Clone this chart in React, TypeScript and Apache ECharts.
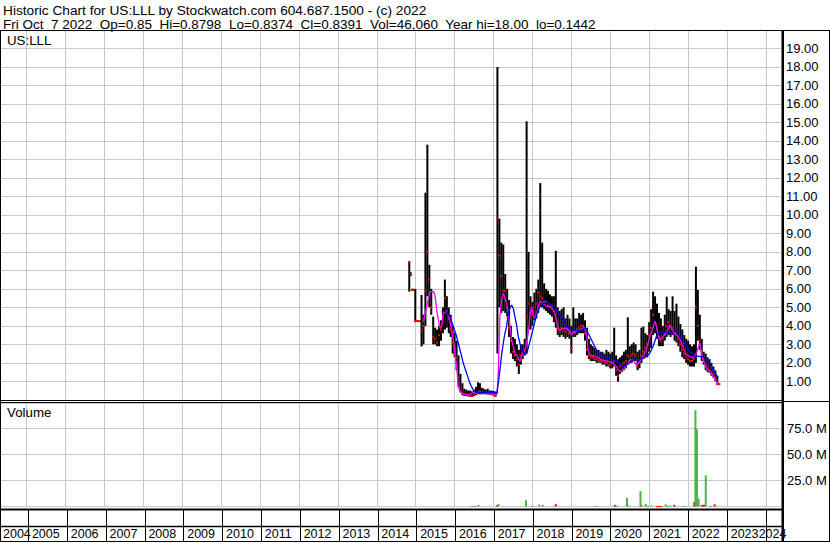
import React, { useEffect, useRef } from "react";
import * as echarts from "echarts";

// ---------- texts ----------
const HEADER_1 = "Historic Chart for US:LLL by Stockwatch.com 604.687.1500 - (c) 2022";
const HEADER_2 =
  "Fri Oct  7 2022  Op=0.85  Hi=0.8798  Lo=0.8374  Cl=0.8391  Vol=46,060  Year hi=18.00  lo=0.1442";
const SYMBOL_LABEL = "US:LLL";
const VOLUME_LABEL = "Volume";

// ---------- axis ranges / ticks ----------
const X_MIN = 2004.345;
const X_MAX = 2024.386;
const yearBoundaries = [
  2005, 2006, 2007, 2008, 2009, 2010, 2011, 2012, 2013, 2014, 2015, 2016, 2017, 2018, 2019, 2020, 2021,
  2022, 2023, 2024,
];
const yearLabels = [
  2004, 2005, 2006, 2007, 2008, 2009, 2010, 2011, 2012, 2013, 2014, 2015, 2016, 2017, 2018, 2019, 2020,
  2021, 2022, 2023, 2024,
];
const PRICE_MAX = 20;
const PRICE_STEP = 1;
const VOLUME_MAX = 99.5; // millions
const VOLUME_STEP = 25;

// ---------- price data ----------
// early sparse trades: [year, high, low, close]
const earlyBars: number[][] = [
  [2014.835, 7.5, 5.85, 7.45],
  [2014.87, 6.9, 6.7, 6.8],
  [2014.905, 6.0, 5.9, 5.95],
  [2014.94, 6.0, 5.9, 5.95],
  [2014.99, 6.0, 4.2, 4.26],
  [2015.03, 4.26, 4.26, 4.26],
  [2015.07, 4.26, 4.26, 4.26],
  [2015.11, 4.26, 4.26, 4.26],
];

// regular bars from 2015.15, one every 0.05 year
const barStart = 2015.15;
const barStep = 0.05;
const barHigh = [
  5.67, 4.6, 11.2, 13.8, 7.3, 6.0, 4.5, 3.9, 3.8, 4.0, 4.3, 5.0, 6.5, 5.6, 5.0, 4.6, 4.0, 3.6, 3.2, 2.4,
  1.4, 0.9, 0.6, 0.55, 0.5, 0.5, 0.45, 0.55, 0.7, 0.95, 0.9, 0.65, 0.6, 0.55, 0.6, 0.5, 0.5, 0.48, 0.45, 18.0,
  9.8, 8.5, 8.4, 6.8, 6.0, 5.4, 4.0, 3.4, 3.3, 3.0, 2.7, 3.0, 3.0, 3.3, 15.06, 8.0, 5.6, 5.3, 5.8, 6.0,
  6.5, 11.72, 8.5, 6.3, 6.0, 5.9, 5.7, 5.6, 5.6, 8.06, 5.0, 4.8, 4.9, 5.0, 4.4, 4.6, 4.4, 4.0, 5.0, 4.4,
  4.4, 4.7, 4.6, 4.7, 4.3, 3.9, 3.3, 3.0, 2.9, 2.8, 2.7, 2.7, 2.6, 2.6, 2.5, 2.7, 2.6, 2.5, 2.6, 3.9,
  2.4, 2.2, 2.3, 2.4, 2.6, 2.7, 4.46, 2.9, 3.0, 3.1, 3.0, 2.6, 2.7, 3.9, 3.96, 3.6, 3.5, 4.2, 4.9, 5.85,
  5.6, 5.2, 4.7, 4.4, 4.0, 4.6, 5.58, 4.9, 4.8, 5.6, 4.8, 5.2, 4.5, 4.1, 3.8, 3.5, 3.3, 3.2, 3.0, 2.9,
  3.0, 7.2, 5.94, 4.6, 3.3, 2.6, 2.5, 2.3, 2.2, 2.0, 1.8, 1.6, 1.3, 0.88,
];
const barLow = [
  2.88, 3.0, 4.0, 5.6, 5.0, 4.6, 3.0, 3.0, 2.9, 2.9, 3.2, 3.6, 3.8, 3.9, 3.6, 3.4, 2.5, 2.3, 1.6, 0.7,
  0.4, 0.25, 0.2, 0.2, 0.18, 0.17, 0.15, 0.2, 0.25, 0.3, 0.3, 0.3, 0.3, 0.3, 0.28, 0.28, 0.25, 0.22, 0.18, 2.5,
  5.0, 4.7, 4.8, 4.7, 4.5, 3.4, 2.5, 2.2, 2.1, 1.8, 1.4, 1.9, 2.2, 2.4, 2.5, 3.8, 3.8, 4.0, 4.3, 4.4,
  4.7, 5.0, 5.0, 4.9, 4.8, 4.7, 4.6, 4.5, 4.2, 3.9, 3.5, 3.4, 3.5, 3.4, 3.3, 3.4, 3.3, 2.5, 3.4, 3.4,
  3.5, 3.6, 3.6, 3.6, 3.2, 2.4, 2.2, 2.1, 2.1, 2.1, 2.0, 2.0, 2.0, 1.9, 1.9, 1.8, 1.8, 1.7, 1.7, 1.8,
  1.3, 0.98, 1.4, 1.5, 1.6, 1.7, 1.9, 2.0, 2.0, 2.1, 2.1, 1.6, 1.7, 2.0, 2.2, 2.3, 2.3, 2.6, 2.8, 3.5,
  3.6, 3.3, 2.9, 2.9, 2.9, 3.2, 3.4, 3.5, 3.4, 3.5, 3.2, 3.1, 2.9, 2.6, 2.3, 2.2, 2.0, 1.9, 1.8, 1.8,
  1.8, 2.0, 3.2, 2.7, 2.1, 1.9, 1.6, 1.5, 1.45, 1.3, 1.2, 1.0, 0.8, 0.84,
];
const barClose = [
  3.7, 4.0, 5.9, 8.0, 6.5, 5.0, 3.4, 3.3, 3.1, 3.5, 3.8, 4.5, 5.5, 4.8, 4.4, 3.8, 3.1, 2.9, 2.3, 1.2,
  0.5, 0.35, 0.3, 0.28, 0.25, 0.22, 0.2, 0.3, 0.35, 0.4, 0.45, 0.4, 0.38, 0.4, 0.35, 0.35, 0.32, 0.3, 0.2, 9.8,
  7.8, 6.7, 5.9, 5.9, 5.0, 3.9, 3.2, 2.6, 2.4, 2.2, 1.9, 2.4, 2.5, 2.7, 4.5, 5.2, 4.7, 4.6, 5.0, 5.2,
  5.8, 5.6, 5.5, 5.3, 5.3, 5.1, 5.1, 5.0, 4.8, 4.6, 3.8, 3.7, 3.9, 3.8, 3.7, 3.8, 3.6, 2.8, 3.7, 3.6,
  3.8, 3.9, 4.0, 4.0, 3.6, 2.7, 2.4, 2.3, 2.3, 2.2, 2.2, 2.1, 2.1, 2.1, 2.0, 2.0, 1.9, 1.9, 2.0, 2.1,
  1.6, 1.3, 1.8, 1.9, 2.0, 2.1, 2.4, 2.3, 2.4, 2.5, 2.4, 1.8, 2.0, 2.4, 2.6, 2.8, 3.0, 3.5, 3.9, 4.6,
  4.2, 3.8, 3.4, 3.2, 3.3, 3.6, 4.0, 4.2, 4.0, 3.9, 3.6, 3.5, 3.3, 3.0, 2.7, 2.5, 2.3, 2.2, 2.1, 2.1,
  2.2, 5.0, 4.0, 3.2, 2.6, 2.2, 1.9, 1.8, 1.6, 1.5, 1.4, 1.2, 0.95, 0.84,
];

// moving averages: [year, price]
const maShort: number[][] = [
  [2015.197, 4.23], [2015.282, 5.04], [2015.368, 5.85], [2015.453, 5.85], [2015.496, 5.67],
  [2015.539, 4.86], [2015.582, 4.32], [2015.624, 3.87], [2015.667, 3.96], [2015.71, 4.72],
  [2015.753, 4.72], [2015.796, 4.68], [2015.838, 4.59], [2015.881, 4.23], [2015.924, 3.78],
  [2015.967, 3.24], [2016.009, 2.52], [2016.052, 1.79], [2016.095, 0.71], [2016.138, 0.44],
  [2016.223, 0.31], [2016.309, 0.26], [2016.394, 0.3], [2016.48, 0.39], [2016.737, 0.39],
  [2016.908, 0.35], [2017.036, 0.26], [2017.096, 0.35], [2017.121, 1.43], [2017.147, 3.24],
  [2017.164, 4.5], [2017.207, 5.4], [2017.25, 5.76], [2017.293, 5.49], [2017.335, 5.22],
  [2017.378, 4.68], [2017.421, 3.96], [2017.464, 3.24], [2017.506, 2.88], [2017.549, 2.52],
  [2017.592, 2.43], [2017.635, 2.25], [2017.678, 2.07], [2017.72, 2.34], [2017.763, 2.52],
  [2017.806, 2.7], [2017.849, 3.06], [2017.891, 3.6], [2017.934, 4.5], [2017.977, 5.04],
  [2018.02, 4.59], [2018.062, 4.41], [2018.105, 4.68], [2018.148, 5.04], [2018.191, 5.31],
  [2018.276, 5.22], [2018.362, 5.04], [2018.447, 5.04], [2018.533, 4.86], [2018.576, 4.68],
  [2018.618, 4.32], [2018.661, 3.87], [2018.704, 3.78], [2018.79, 3.87], [2018.875, 3.87],
  [2018.961, 3.69], [2019.003, 3.51], [2019.089, 3.69], [2019.217, 3.78], [2019.328, 3.92],
  [2019.371, 3.69], [2019.405, 3.24], [2019.431, 2.7], [2019.474, 2.43], [2019.645, 2.34],
  [2019.773, 2.16], [2019.987, 2.07], [2020.073, 1.97], [2020.158, 1.79], [2020.244, 1.52],
  [2020.329, 1.62], [2020.415, 1.88], [2020.5, 2.16], [2020.586, 2.16], [2020.671, 1.88],
  [2020.757, 2.07], [2020.843, 2.34], [2020.928, 2.7], [2021.014, 3.42], [2021.099, 3.87],
  [2021.142, 4.23], [2021.168, 4.14], [2021.202, 3.78], [2021.27, 3.24], [2021.356, 3.42],
  [2021.441, 3.6], [2021.527, 4.05], [2021.595, 3.78], [2021.698, 3.51], [2021.783, 3.33],
  [2021.869, 2.88], [2021.955, 2.43], [2022.126, 2.25], [2022.211, 2.52], [2022.297, 3.06],
  [2022.34, 2.61], [2022.382, 2.16], [2022.468, 1.71], [2022.553, 1.52], [2022.639, 1.29],
  [2022.725, 0.98], [2022.767, 0.8],
];
const maLong: number[][] = [
  [2015.667, 4.77], [2015.753, 4.77], [2015.796, 4.72], [2015.838, 4.59], [2015.881, 4.5],
  [2015.924, 4.23], [2015.967, 3.96], [2016.009, 3.69], [2016.052, 3.42], [2016.095, 3.06],
  [2016.138, 2.7], [2016.181, 2.34], [2016.223, 1.97], [2016.266, 1.71], [2016.309, 1.43],
  [2016.352, 1.16], [2016.394, 0.89], [2016.437, 0.71], [2016.48, 0.53], [2016.522, 0.44],
  [2016.565, 0.4], [2016.822, 0.39], [2017.036, 0.39], [2017.079, 0.31], [2017.121, 0.89],
  [2017.164, 1.62], [2017.207, 2.43], [2017.25, 3.06], [2017.293, 3.6], [2017.335, 3.96],
  [2017.378, 4.68], [2017.421, 4.95], [2017.464, 5.13], [2017.506, 4.95], [2017.549, 4.5],
  [2017.592, 4.05], [2017.635, 3.42], [2017.678, 3.06], [2017.72, 2.79], [2017.763, 2.61],
  [2017.806, 2.43], [2017.849, 2.52], [2017.891, 2.79], [2017.934, 3.15], [2017.977, 3.51],
  [2018.02, 3.87], [2018.062, 4.23], [2018.105, 4.59], [2018.148, 4.86], [2018.191, 5.04],
  [2018.276, 5.22], [2018.362, 5.26], [2018.447, 5.17], [2018.533, 5.08], [2018.618, 4.86],
  [2018.704, 4.59], [2018.79, 4.32], [2018.875, 3.96], [2018.961, 3.82], [2019.046, 3.76],
  [2019.174, 3.74], [2019.26, 3.78], [2019.345, 3.87], [2019.388, 3.82], [2019.431, 3.6],
  [2019.474, 3.42], [2019.516, 3.24], [2019.559, 3.06], [2019.602, 2.88], [2019.645, 2.7],
  [2019.73, 2.43], [2019.816, 2.34], [2019.902, 2.25], [2020.073, 2.16], [2020.158, 2.12],
  [2020.244, 1.97], [2020.329, 1.79], [2020.415, 1.88], [2020.5, 2.01], [2020.586, 2.16],
  [2020.757, 2.16], [2020.928, 2.34], [2021.014, 2.52], [2021.099, 2.88], [2021.185, 3.42],
  [2021.27, 3.69], [2021.441, 3.63], [2021.527, 3.6], [2021.655, 3.74], [2021.741, 3.51],
  [2021.826, 3.24], [2021.912, 3.05], [2021.997, 2.79], [2022.083, 2.5], [2022.168, 2.37],
  [2022.34, 2.34], [2022.468, 2.25], [2022.553, 1.97], [2022.639, 1.62], [2022.725, 1.34],
  [2022.767, 1.22],
];

// volume: [year, millions, up(1)/down(0)]
const volumes: number[][] = [
  [2016.447, 0.5, 1], [2016.524, 0.6, 1], [2016.613, 1.5, 1], [2017.089, 1.2, 0], [2017.127, 2.4, 1],
  [2017.834, 6.0, 1], [2017.988, 0.5, 1], [2018.176, 2.0, 1], [2018.263, 1.6, 1], [2018.6, 2.2, 0],
  [2019.628, 0.5, 1], [2020.116, 1.6, 0], [2020.172, 0.8, 1], [2020.429, 8.3, 1], [2020.48, 0.8, 1],
  [2020.776, 14.8, 1], [2020.802, 1.0, 0], [2020.912, 2.6, 1], [2020.969, 0.5, 1], [2021.059, 1.0, 1],
  [2021.2, 0.4, 0], [2021.251, 0.4, 0], [2021.302, 0.4, 0], [2021.423, 2.0, 1], [2021.482, 0.4, 1],
  [2021.534, 0.8, 1], [2021.644, 1.6, 0], [2021.893, 0.5, 1], [2022.16, 4.4, 0], [2022.188, 92.6, 1],
  [2022.226, 74.3, 1], [2022.27, 7.3, 1], [2022.355, 1.6, 0], [2022.406, 1.6, 0], [2022.453, 30.0, 1],
  [2022.574, 0.5, 1], [2022.682, 2.0, 0],
];

// ---------- styles ----------
const FONT = "'Liberation Sans', Arial, sans-serif";
const GRID_COLOR = "#c8c8c8";
const BAR_COLOR = "#000000";
const CLOSE_COLOR = "#ff0000";
const MA_SHORT_COLOR = "#ff00ff";
const MA_LONG_COLOR = "#0000ff";
const VOL_UP = "#4cb24c";
const VOL_DOWN = "#ff0000";

function buildOption() {
  const priceBars = [
    ...earlyBars,
    ...barHigh.map((h, i) => [barStart + i * barStep, h, barLow[i], barClose[i]]),
  ];

  const gridX = (gridIndex: number, color: string) => ({
    type: "value",
    gridIndex,
    min: X_MIN,
    max: X_MAX,
    axisLine: { show: false },
    axisTick: { show: false, customValues: yearBoundaries },
    axisLabel: { show: false },
    splitLine: { show: true, lineStyle: { color, width: 1 } },
  });

  const labelPositions = yearLabels.map((y, i) => {
    if (i === 0) return X_MIN;
    if (i === yearLabels.length - 1) return y - 0.19;
    return y + 0.09;
  });

  const frame = (x1: number, y1: number, x2: number, y2: number, w = 1) => ({
    type: "line",
    z: 100,
    silent: true,
    shape: { x1, y1, x2, y2 },
    style: { stroke: "#000", lineWidth: w },
  });

  return {
    animation: false,
    backgroundColor: "#ffffff",
    grid: [
      { left: 1, top: 30, width: 780, height: 369.8 },
      { left: 1, top: 403, width: 780, height: 103.5 },
      { left: 1, top: 510, width: 780, height: 31 },
    ],
    xAxis: [
      gridX(0, GRID_COLOR),
      gridX(1, GRID_COLOR),
      {
        ...gridX(2, "#000"),
        axisLabel: {
          show: true,
          customValues: labelPositions,
          inside: true,
          margin: 1,
          align: "left",
          color: "#000",
          fontSize: 12.5,
          fontFamily: FONT,
          formatter: (v: number) => String(Math.floor(v + 0.25)),
        },
      },
    ],
    yAxis: [
      {
        type: "value",
        gridIndex: 0,
        position: "right",
        min: 0,
        max: PRICE_MAX,
        interval: PRICE_STEP,
        axisLine: { show: false },
        axisTick: { show: false },
        axisLabel: {
          show: true,
          showMinLabel: false,
          showMaxLabel: false,
          margin: 5,
          color: "#000",
          fontSize: 13,
          fontFamily: FONT,
          formatter: (v: number) => v.toFixed(2),
        },
        splitLine: { show: true, lineStyle: { color: GRID_COLOR, width: 1 } },
      },
      {
        type: "value",
        gridIndex: 1,
        position: "right",
        min: 0,
        max: VOLUME_MAX,
        interval: VOLUME_STEP,
        axisLine: { show: false },
        axisTick: { show: false },
        axisLabel: {
          show: true,
          showMinLabel: false,
          showMaxLabel: false,
          margin: 6,
          color: "#000",
          fontSize: 13,
          fontFamily: FONT,
          formatter: (v: number) => v.toFixed(1) + " M",
        },
        splitLine: { show: true, lineStyle: { color: GRID_COLOR, width: 1 } },
      },
      {
        type: "value",
        gridIndex: 2,
        min: 0,
        max: 1,
        show: false,
      },
    ],
    series: [
      {
        type: "custom",
        name: "price",
        xAxisIndex: 0,
        yAxisIndex: 0,
        data: priceBars,
        z: 3,
        renderItem: (_params: any, api: any) => {
          const x = api.value(0);
          const ph = api.coord([x, api.value(1)]);
          const pl = api.coord([x, api.value(2)]);
          const pc = api.coord([x, api.value(3)]);
          return {
            type: "group",
            children: [
              {
                type: "rect",
                shape: { x: ph[0] - 1, y: ph[1], width: 2, height: Math.max(1, pl[1] - ph[1]) },
                style: { fill: BAR_COLOR },
              },
              {
                type: "rect",
                shape: { x: pc[0] - 1, y: pc[1] - 1, width: 2, height: 2 },
                style: { fill: CLOSE_COLOR },
              },
            ],
          };
        },
      },
      {
        type: "line",
        name: "ma short",
        xAxisIndex: 0,
        yAxisIndex: 0,
        data: maShort,
        showSymbol: false,
        symbol: "none",
        z: 4,
        lineStyle: { color: MA_SHORT_COLOR, width: 1.3 },
      },
      {
        type: "line",
        name: "ma long",
        xAxisIndex: 0,
        yAxisIndex: 0,
        data: maLong,
        showSymbol: false,
        symbol: "none",
        z: 5,
        lineStyle: { color: MA_LONG_COLOR, width: 1.3 },
      },
      {
        type: "custom",
        name: "volume",
        xAxisIndex: 1,
        yAxisIndex: 1,
        data: volumes,
        z: 3,
        renderItem: (_params: any, api: any) => {
          const x = api.value(0);
          const top = api.coord([x, api.value(1)]);
          const base = api.coord([x, 0]);
          return {
            type: "rect",
            shape: { x: top[0] - 1, y: top[1], width: 2, height: Math.max(1, base[1] - top[1]) },
            style: { fill: api.value(2) === 1 ? VOL_UP : VOL_DOWN },
          };
        },
      },
    ],
    graphic: {
      elements: [
        { type: "text", left: 3, top: 3, z: 100, style: { text: HEADER_1, fill: "#000", fontSize: 13.7, fontFamily: FONT } },
        { type: "text", left: 3, top: 17, z: 100, style: { text: HEADER_2, fill: "#000", fontSize: 13.5, fontFamily: FONT } },
        { type: "text", left: 7, top: 34, z: 100, style: { text: SYMBOL_LABEL, fill: "#000", fontSize: 13.3, fontFamily: FONT } },
        { type: "text", left: 7, top: 406, z: 100, style: { text: VOLUME_LABEL, fill: "#000", fontSize: 13.3, fontFamily: FONT } },
        frame(0, 30.5, 830, 30.5),
        frame(0.5, 30, 0.5, 542),
        frame(829.5, 30, 829.5, 542),
        frame(0, 541.5, 830, 541.5),
        frame(782.75, 30, 782.75, 542, 2.5),
        frame(0, 400.5, 782, 400.5),
        frame(0, 402.5, 782, 402.5),
        frame(782, 401.5, 830, 401.5),
        frame(0, 509.5, 782, 509.5, 2),
        frame(0, 526.5, 782, 526.5, 1.5),
      ],
    },
  };
}

export default function App() {
  const ref = useRef<HTMLDivElement>(null);
  useEffect(() => {
    document.body.style.margin = "0";
    if (!ref.current) return;
    const chart = echarts.init(ref.current, null, { renderer: "svg" });
    chart.setOption(buildOption() as any);
    return () => chart.dispose();
  }, []);
  return (
    <div
      ref={ref}
      style={{ position: "absolute", left: 0, top: 0, width: 830, height: 543, background: "#fff" }}
    />
  );
}
